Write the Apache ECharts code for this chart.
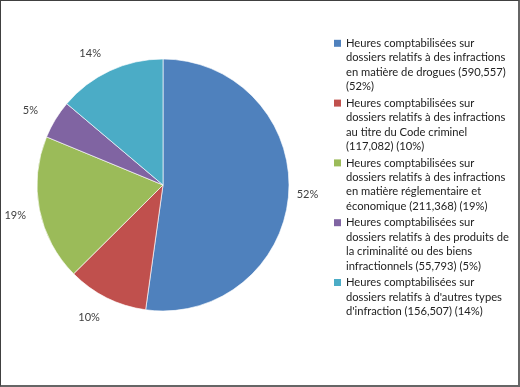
<!DOCTYPE html>
<html>
<head>
<meta charset="utf-8">
<script src="https://cdn.jsdelivr.net/npm/echarts@6/dist/echarts.min.js"></script>
<style>
html,body{margin:0;padding:0;background:#fff;}
#wrap{width:520px;height:387px;box-sizing:border-box;border-top:1px solid #404040;border-left:1px solid #404040;border-right:2px solid #666;border-bottom:2px solid #666;position:relative;overflow:hidden;}
#chart{position:absolute;left:-1px;top:-1px;width:520px;height:387px;}
</style>
</head>
<body>
<div id="wrap"><div id="chart"></div></div>
<script>
// Data
var categories = [
  "Heures comptabilisées sur\ndossiers relatifs à des infractions\nen matière de drogues (590,557)\n(52%)",
  "Heures comptabilisées sur\ndossiers relatifs à des infractions\nau titre du Code criminel\n(117,082) (10%)",
  "Heures comptabilisées sur\ndossiers relatifs à des infractions\nen matière réglementaire et\néconomique (211,368) (19%)",
  "Heures comptabilisées sur\ndossiers relatifs à des produits de\nla criminalité ou des biens\ninfractionnels (55,793) (5%)",
  "Heures comptabilisées sur\ndossiers relatifs à d'autres types\nd'infraction (156,507) (14%)"
];
var hours = [590557, 117082, 211368, 55793, 156507];
var colors = ['#4F81BD', '#C0504D', '#9BBB59', '#8064A2', '#4BACC6'];

// label placement styles (outside labels)
var labelLineLen = [18, 22, 30, 18, 19];
var labelDist = [-10, -3, -16, 2, 1];

var FONT = 'Lato';
var LH = 14.4;
var rich = {
  t: {fontFamily: FONT, fontSize: 11.2, color: '#222', lineHeight: LH},
  g: {width: 5, lineHeight: LH},
  i: {width: 12, lineHeight: LH}
};
colors.forEach(function (c, k) {
  rich['s' + k] = {width: 7, height: 7, backgroundColor: c, lineHeight: LH};
});

var data = categories.map(function (name, k) {
  return {
    name: name,
    value: hours[k],
    itemStyle: {color: colors[k]},
    label: {distanceToLabelLine: labelDist[k]},
    labelLine: {show: false, length: labelLineLen[k], length2: 0}
  };
});

var chart = echarts.init(document.getElementById('chart'), null, {renderer: 'canvas'});
chart.setOption({
  animation: false,
  backgroundColor: 'transparent',
  legend: {
    orient: 'vertical',
    left: 329,
    top: 37.8,
    padding: 0,
    itemGap: 5.6,
    itemWidth: 0,
    itemHeight: 7,
    icon: 'none',
    selectedMode: false,
    data: categories,
    formatter: function (name) {
      var k = categories.indexOf(name);
      var lines = name.split('\n');
      return lines.map(function (ln, j) {
        return (j === 0 ? '{s' + k + '|}{g|}' : '{i|}') + '{t|' + ln + '}';
      }).join('\n');
    },
    textStyle: {rich: rich, fontFamily: FONT, fontSize: 11.2, color: '#222'}
  },
  series: [{
    type: 'pie',
    center: [163, 185],
    radius: 126,
    startAngle: 90,
    clockwise: true,
    avoidLabelOverlap: true,
    itemStyle: {borderColor: 'rgba(255,255,255,0.8)', borderWidth: 0.8},
    label: {
      show: true,
      position: 'outside',
      bleedMargin: 0,
      fontFamily: FONT,
      fontSize: 11,
      color: '#404040',
      formatter: function (p) { return Math.round(p.percent) + '%'; }
    },
    emphasis: {disabled: true},
    data: data
  }]
});
</script>
</body>
</html>
